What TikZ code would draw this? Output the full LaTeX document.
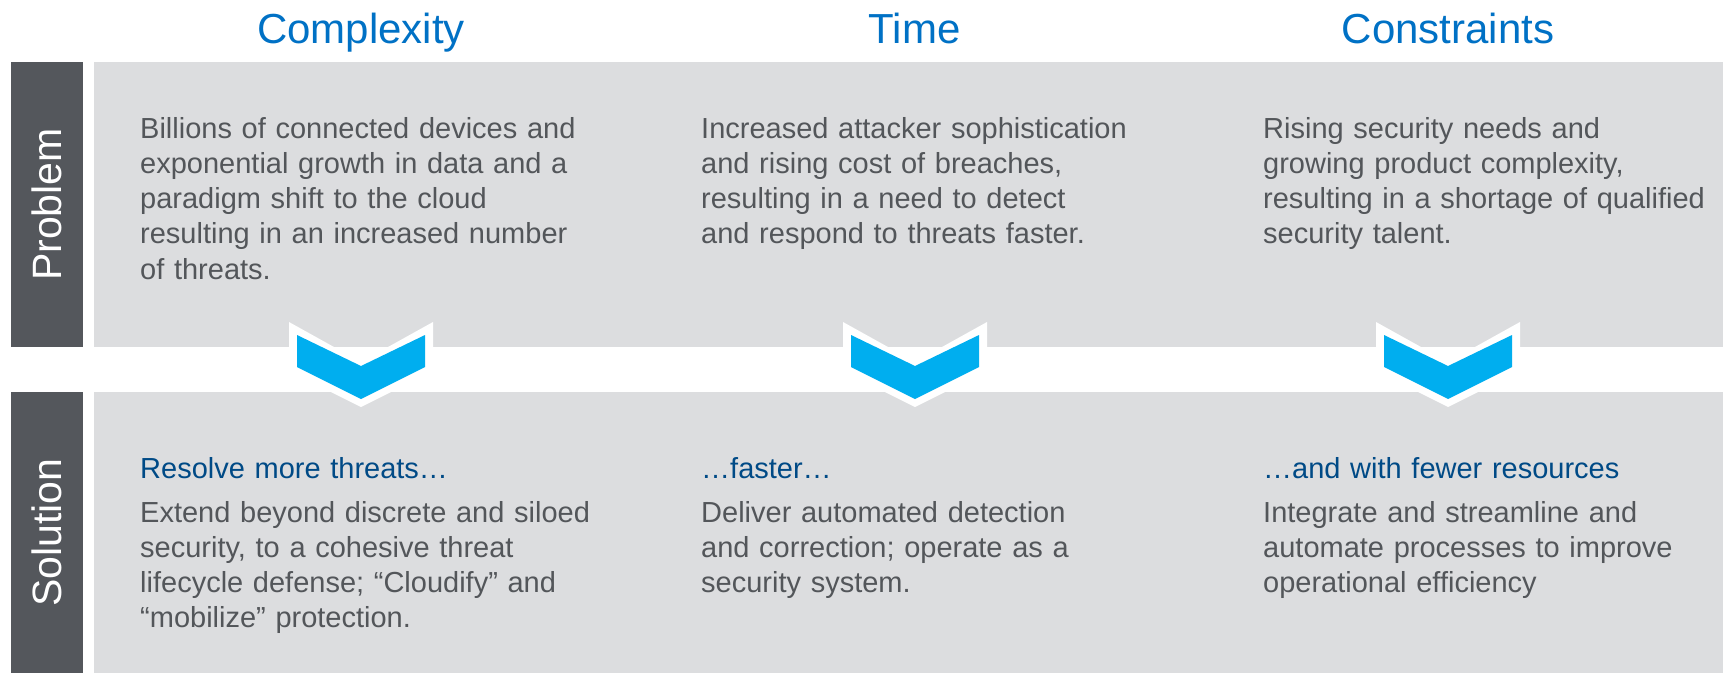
\documentclass[tikz,border=0pt]{standalone}
\usepackage{fontspec}
\setmainfont{Liberation Sans}
\usetikzlibrary{
	calc,
	positioning
}
\definecolor{headblue}{HTML}{0071C5}
\definecolor{subblue}{HTML}{004A86}
\definecolor{bodygray}{HTML}{53565A}
\definecolor{bargray}{HTML}{54575C}
\definecolor{panelgray}{HTML}{DCDDDF}
\definecolor{chevblue}{HTML}{00AEEF}
\tikzset{
	header/.style={text=headblue, font=\fontsize{42}{50}\selectfont, inner sep=0pt, anchor=base},
	sidebar/.style={fill=bargray, text=white, rotate=90, minimum height=72pt, inner sep=0pt, font=\fontsize{41}{48}\selectfont},
	panel/.style={fill=panelgray, minimum width=1629pt, inner sep=0pt},
	bodytext/.style={text=bodygray, text width=540pt, align=left, inner sep=0pt, anchor=base west, font=\fontsize{29}{35.3}\selectfont},
	subtext/.style={bodytext, text=subblue}
}
% chevron between the two rows, centred at x
\newcommand{\downchevron}[1]{
	\fill[white] (#1-72,322) -- (#1,362) -- (#1+72,322) -- (#1+72,371) -- (#1,407) -- (#1-72,371) -- cycle;
	\fill[chevblue] (#1-64,335) -- (#1,366) -- (#1+64,335) -- (#1+64,367) -- (#1,399) -- (#1-64,367) -- cycle;
}

\begin{document}
\begin{tikzpicture}[x=1pt, y=-1pt]
	\useasboundingbox (0,0) rectangle (1723,673);

	\node[panel, minimum height=285pt] (probpanel) at (908.5,204.5) {};
	\node[panel, minimum height=281pt] (solpanel) at (908.5,532.5) {};
	\node[sidebar, minimum width=285pt] (probbar) at (47,204.5) {Problem};
	\node[sidebar, minimum width=281pt] (solbar) at (47,532.5) {Solution};

	\node[header] (complexity) at (361,43) {Complexity};
	\node[header] (time) at (914.5,43) {Time};
	\node[header] (constraints) at (1448,43) {Constraints};

	\node[bodytext] (probA) at (140,138) {Billions of connected devices and\\exponential growth in data and a\\paradigm shift to the cloud\\resulting in an increased number\\of threats.};
	\node[bodytext] (probB) at (701,138) {Increased attacker sophistication\\and rising cost of breaches,\\resulting in a need to detect\\and respond to threats faster.};
	\node[bodytext] (probC) at (1263,138) {Rising security needs and\\growing product complexity,\\resulting in a shortage of qualified\\security talent.};

	\downchevron{361}
	\downchevron{915}
	\downchevron{1448}

	\node[subtext] (subA) at (140,478) {Resolve more threats…};
	\node[subtext] (subB) at (701,478) {…faster…};
	\node[subtext] (subC) at (1263,478) {…and with fewer resources};

	\node[bodytext] (solA) at ($(subA.base west)+(0,44)$) {Extend beyond discrete and siloed\\security, to a cohesive threat\\lifecycle defense; “Cloudify” and\\“mobilize” protection.};
	\node[bodytext] (solB) at ($(subB.base west)+(0,44)$) {Deliver automated detection\\and correction; operate as a\\security system.};
	\node[bodytext] (solC) at ($(subC.base west)+(0,44)$) {Integrate and streamline and\\automate processes to improve\\operational efficiency};
\end{tikzpicture}
\end{document}
